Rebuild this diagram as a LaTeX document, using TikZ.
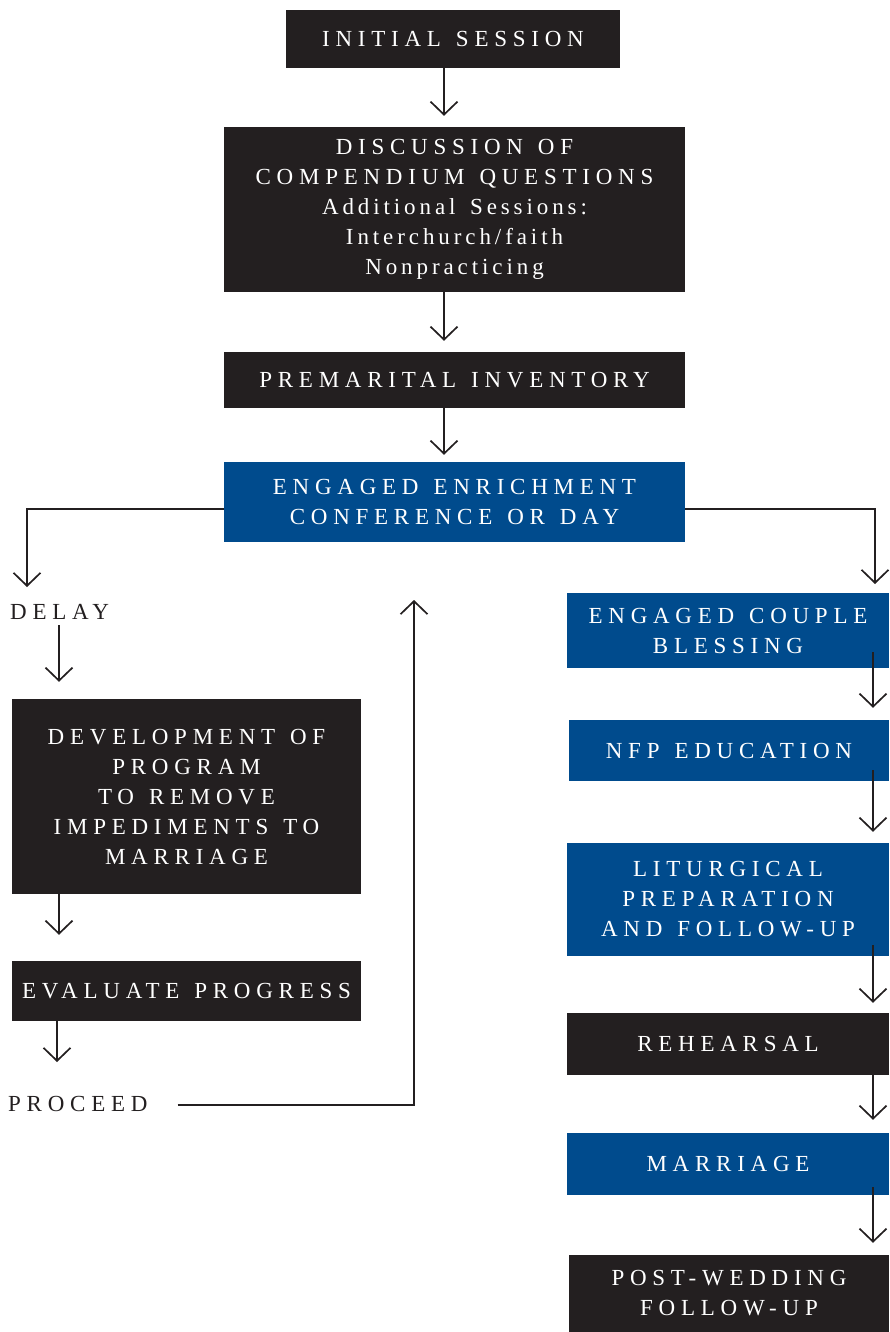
\documentclass[tikz,border=0pt]{standalone}
\usepackage{fontspec}
\usetikzlibrary{arrows.meta}
\newfontfamily\capsfont[LetterSpace=25,WordSpace=1.3]{Liberation Serif}
\newfontfamily\lowfont[LetterSpace=17,WordSpace=1.5]{Liberation Serif}
\definecolor{dark}{HTML}{231F20}
\definecolor{navy}{HTML}{004B8D}
\tikzset{
  box/.style={rectangle, inner sep=0pt, text=white, align=center,
    font=\capsfont\fontsize{23}{30}\selectfont},
  darkbox/.style={box, fill=dark},
  bluebox/.style={box, fill=navy},
  lbl/.style={inner sep=0pt, text=dark, font=\capsfont\fontsize{23}{30}\selectfont},
  arr/.style={draw=dark, line width=1.7pt,
    -{Straight Barb[length=13pt,width=27pt,line width=1.7pt]}}
}
\begin{document}
\begin{tikzpicture}[x=1pt,y=-1pt]
\useasboundingbox (0,0) rectangle (889,1332);
% centre column
\node[darkbox, minimum width=334pt, minimum height=58pt] (init) at (453,39) {INITIAL SESSION};
\node[darkbox, minimum width=461pt, minimum height=165pt] (disc) at (454.5,209.5)
  {DISCUSSION OF\\COMPENDIUM QUESTIONS\\{\lowfont Additional Sessions:}\\{\lowfont Interchurch/faith}\\{\lowfont Nonpracticing}};
\node[darkbox, minimum width=461pt, minimum height=56pt] (prem) at (454.5,380) {PREMARITAL INVENTORY};
\node[bluebox, minimum width=461pt, minimum height=80pt] (eec) at (454.5,502) {ENGAGED ENRICHMENT\\CONFERENCE OR DAY};
% left column
\node[lbl, anchor=west] (delay) at (10,612) {DELAY};
\node[darkbox, minimum width=349pt, minimum height=195pt] (dev) at (186.5,796.5)
  {DEVELOPMENT OF\\PROGRAM\\TO REMOVE\\IMPEDIMENTS TO\\MARRIAGE};
\node[darkbox, minimum width=349pt, minimum height=60pt] (eval) at (186.5,991) {EVALUATE PROGRESS};
\node[lbl, anchor=west] (proc) at (8,1104) {PROCEED};
% right column
\node[bluebox, minimum width=322pt, minimum height=75pt] (ecb) at (728,630.5) {ENGAGED COUPLE\\BLESSING};
\node[bluebox, minimum width=320pt, minimum height=61pt] (nfp) at (729,750.5) {NFP EDUCATION};
\node[bluebox, minimum width=322pt, minimum height=113pt] (lit) at (728,899.5) {LITURGICAL\\PREPARATION\\AND FOLLOW-UP};
\node[darkbox, minimum width=322pt, minimum height=62pt] (reh) at (728,1044) {REHEARSAL};
\node[bluebox, minimum width=322pt, minimum height=62pt] (mar) at (728,1164) {MARRIAGE};
\node[darkbox, minimum width=320pt, minimum height=77pt] (post) at (729,1293.5) {POST-WEDDING\\FOLLOW-UP};
% coordinates
\coordinate (lb) at (27,509);
\coordinate (ltip) at (27,587);
\coordinate (rb) at (875,509);
\coordinate (rtip) at (875,584);
\coordinate (pc) at (414,1105);
\coordinate (ptip) at (414,600);
% connectors centre
\draw[arr] (init.south -| 444,0) -- ([yshift=11pt]disc.north -| 444,0);
\draw[arr] (disc.south -| 444,0) -- ([yshift=11pt]prem.north -| 444,0);
\draw[arr] (prem.south -| 444,0) -- ([yshift=7pt]eec.north -| 444,0);
% left branch
\draw[arr] (eec.west |- lb) -- (lb) -- (ltip);
\draw[arr] (59,625) -- ([yshift=17pt]dev.north -| 59,0);
\draw[arr] (dev.south -| 59,0) -- ([yshift=26pt]eval.north -| 59,0);
\draw[arr] (eval.south -| 57,0) -- (57,1062);
\draw[arr] ([xshift=30pt]proc.east |- pc) -- (pc) -- (ptip);
% right branch
\draw[arr] (eec.east |- rb) -- (rb) -- (rtip);
\draw[arr] ([yshift=16pt]ecb.south -| 873,0) -- ([yshift=12pt]nfp.north -| 873,0);
\draw[arr] ([yshift=11pt]nfp.south -| 873,0) -- ([yshift=11pt]lit.north -| 873,0);
\draw[arr] ([yshift=11pt]lit.south -| 873,0) -- ([yshift=10pt]reh.north -| 873,0);
\draw[arr] (reh.south -| 873,0) -- ([yshift=13pt]mar.north -| 873,0);
\draw[arr] ([yshift=8pt]mar.south -| 873,0) -- ([yshift=12pt]post.north -| 873,0);
\end{tikzpicture}
\end{document}
